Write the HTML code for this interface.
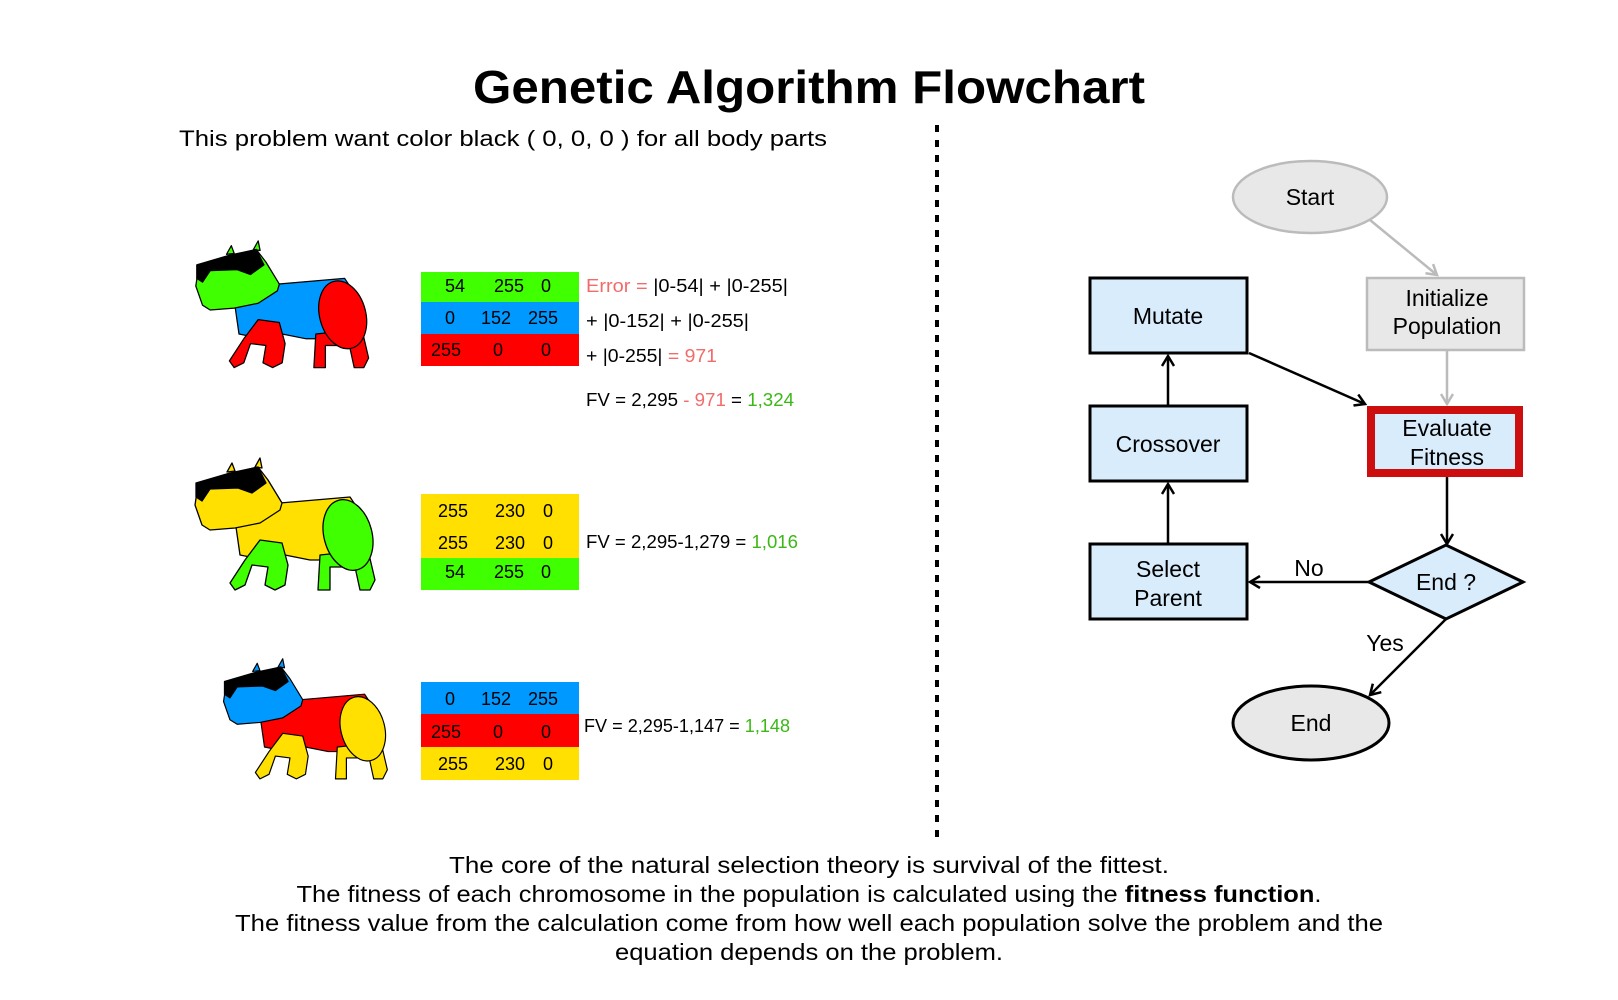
<!DOCTYPE html>
<html><head><meta charset="utf-8"><style>
html,body{margin:0;padding:0;background:#fff;}
svg{display:block;}
text{font-family:"Liberation Sans","DejaVu Sans",sans-serif;}
</style></head><body>
<svg width="1618" height="1000" viewBox="0 0 1618 1000" xmlns="http://www.w3.org/2000/svg">
<defs>
<marker id="ab" markerWidth="14" markerHeight="14" refX="11" refY="7" orient="auto" markerUnits="userSpaceOnUse"><path d="M1,1 L11,7 L1,13" fill="none" stroke="#000" stroke-width="2.5"/></marker>
<marker id="ag" markerWidth="14" markerHeight="14" refX="11" refY="7" orient="auto" markerUnits="userSpaceOnUse"><path d="M1,1 L11,7 L1,13" fill="none" stroke="#bbb" stroke-width="2.5"/></marker>
</defs>

<text x="809" y="103" font-size="46" font-weight="bold" text-anchor="middle" textLength="672" lengthAdjust="spacingAndGlyphs">Genetic Algorithm Flowchart</text>
<text x="179" y="146" font-size="22" textLength="648" lengthAdjust="spacingAndGlyphs">This problem want color black ( 0, 0, 0 ) for all body parts</text>

<line x1="937" y1="125" x2="937" y2="842" stroke="#000" stroke-width="4" stroke-dasharray="7,8"/>

<!-- Dog 1 -->
<g transform="translate(191,238) scale(0.96)" stroke="#000" stroke-width="1.3" stroke-linejoin="round">
 <polygon points="37,17 42,8 45,16" fill="#40ff00"/><polygon points="65,12 70,3 72,13" fill="#40ff00"/>
 <polygon points="46,72 90,48 160,42 172,60 180,90 170,105 120,105 95,100 75,105 50,100" fill="#0099ff"/>
 <polygon points="70,85 92,88 98,110 95,130 85,135 75,130 78,112 62,110 55,130 45,135 40,128 55,105" fill="#ff0000"/>
 <polygon points="130,100 178,95 185,125 180,135 170,135 165,112 140,112 140,135 128,135" fill="#ff0000"/>
 <ellipse cx="158" cy="80" rx="24" ry="36" transform="rotate(-15 158 80)" fill="#ff0000"/>
 <polygon points="8,30 35,20 68,12 78,25 92,48 90,55 70,68 45,73 20,75 12,70 5,50" fill="#40ff00"/>
 <polygon points="6,28 40,18 68,12 76,28 62,38 48,33 20,34 12,46 6,42" fill="#000"/>
</g>
<!-- Dog 2 -->
<g transform="translate(190,455)" stroke="#000" stroke-width="1.3" stroke-linejoin="round">
 <polygon points="37,17 42,8 45,16" fill="#ffe000"/><polygon points="65,12 70,3 72,13" fill="#ffe000"/>
 <polygon points="46,72 90,48 160,42 172,60 180,90 170,105 120,105 95,100 75,105 50,100" fill="#ffe000"/>
 <polygon points="70,85 92,88 98,110 95,130 85,135 75,130 78,112 62,110 55,130 45,135 40,128 55,105" fill="#40ff00"/>
 <polygon points="130,100 178,95 185,125 180,135 170,135 165,112 140,112 140,135 128,135" fill="#40ff00"/>
 <ellipse cx="158" cy="80" rx="24" ry="36" transform="rotate(-15 158 80)" fill="#40ff00"/>
 <polygon points="8,30 35,20 68,12 78,25 92,48 90,55 70,68 45,73 20,75 12,70 5,50" fill="#ffe000"/>
 <polygon points="6,28 40,18 68,12 76,28 62,38 48,33 20,34 12,46 6,42" fill="#000"/>
</g>
<!-- Dog 3 -->
<g transform="translate(219,656) scale(0.91)" stroke="#000" stroke-width="1.3" stroke-linejoin="round">
 <polygon points="37,17 42,8 45,16" fill="#0099ff"/><polygon points="65,12 70,3 72,13" fill="#0099ff"/>
 <polygon points="46,72 90,48 160,42 172,60 180,90 170,105 120,105 95,100 75,105 50,100" fill="#ff0000"/>
 <polygon points="70,85 92,88 98,110 95,130 85,135 75,130 78,112 62,110 55,130 45,135 40,128 55,105" fill="#ffe000"/>
 <polygon points="130,100 178,95 185,125 180,135 170,135 165,112 140,112 140,135 128,135" fill="#ffe000"/>
 <ellipse cx="158" cy="80" rx="24" ry="36" transform="rotate(-15 158 80)" fill="#ffe000"/>
 <polygon points="8,30 35,20 68,12 78,25 92,48 90,55 70,68 45,73 20,75 12,70 5,50" fill="#0099ff"/>
 <polygon points="6,28 40,18 68,12 76,28 62,38 48,33 20,34 12,46 6,42" fill="#000"/>
</g>

<!-- Tables -->
<g font-size="18" text-anchor="middle">
 <rect x="421" y="272" width="158" height="30" fill="#40ff00"/>
 <rect x="421" y="302" width="158" height="32" fill="#0099ff"/>
 <rect x="421" y="334" width="158" height="32" fill="#ff0000"/>
 <text x="455" y="292">54</text><text x="509" y="292">255</text><text x="546" y="292">0</text>
 <text x="450" y="324">0</text><text x="496" y="324">152</text><text x="543" y="324">255</text>
 <text x="446" y="356">255</text><text x="498" y="356">0</text><text x="546" y="356">0</text>

 <rect x="421" y="494" width="158" height="32" fill="#ffe000"/>
 <rect x="421" y="526" width="158" height="32" fill="#ffe000"/>
 <rect x="421" y="558" width="158" height="32" fill="#40ff00"/>
 <text x="453" y="517">255</text><text x="510" y="517">230</text><text x="548" y="517">0</text>
 <text x="453" y="549">255</text><text x="510" y="549">230</text><text x="548" y="549">0</text>
 <text x="455" y="578">54</text><text x="509" y="578">255</text><text x="546" y="578">0</text>

 <rect x="421" y="682" width="158" height="32" fill="#0099ff"/>
 <rect x="421" y="714" width="158" height="33" fill="#ff0000"/>
 <rect x="421" y="747" width="158" height="33" fill="#ffe000"/>
 <text x="450" y="705">0</text><text x="496" y="705">152</text><text x="543" y="705">255</text>
 <text x="446" y="738">255</text><text x="498" y="738">0</text><text x="546" y="738">0</text>
 <text x="453" y="770">255</text><text x="510" y="770">230</text><text x="548" y="770">0</text>
</g>

<g font-size="18">
 <text x="586" y="292" textLength="202" lengthAdjust="spacingAndGlyphs"><tspan fill="#f26b6b">Error =</tspan> |0-54| + |0-255|</text>
 <text x="586" y="327" textLength="163" lengthAdjust="spacingAndGlyphs">+ |0-152| + |0-255|</text>
 <text x="586" y="362" textLength="131" lengthAdjust="spacingAndGlyphs">+ |0-255| <tspan fill="#f26b6b">= 971</tspan></text>
 <text x="586" y="406" textLength="208" lengthAdjust="spacingAndGlyphs">FV = 2,295 <tspan fill="#f26b6b">- 971</tspan> = <tspan fill="#3cb816">1,324</tspan></text>
 <text x="586" y="548" textLength="212" lengthAdjust="spacingAndGlyphs">FV = 2,295-1,279 = <tspan fill="#3cb816">1,016</tspan></text>
 <text x="584" y="732" textLength="206" lengthAdjust="spacingAndGlyphs">FV = 2,295-1,147 = <tspan fill="#3cb816">1,148</tspan></text>
</g>

<!-- Flowchart -->
<g font-size="23" text-anchor="middle">
 <line x1="1370" y1="220" x2="1437" y2="275" stroke="#bbb" stroke-width="2.5" marker-end="url(#ag)"/>
 <line x1="1447" y1="350" x2="1447" y2="404" stroke="#bbb" stroke-width="2.5" marker-end="url(#ag)"/>
 <line x1="1249" y1="353" x2="1365" y2="404" stroke="#000" stroke-width="2.5" marker-end="url(#ab)"/>
 <line x1="1447" y1="477" x2="1447" y2="544" stroke="#000" stroke-width="2.5" marker-end="url(#ab)"/>
 <line x1="1369" y1="582" x2="1250" y2="582" stroke="#000" stroke-width="2.5" marker-end="url(#ab)"/>
 <line x1="1168" y1="544" x2="1168" y2="484" stroke="#000" stroke-width="2.5" marker-end="url(#ab)"/>
 <line x1="1168" y1="406" x2="1168" y2="356" stroke="#000" stroke-width="2.5" marker-end="url(#ab)"/>
 <line x1="1446" y1="619" x2="1370" y2="695" stroke="#000" stroke-width="2.5" marker-end="url(#ab)"/>

 <ellipse cx="1310" cy="197" rx="77" ry="36" fill="#e8e8e8" stroke="#bbb" stroke-width="2.5"/>
 <text x="1310" y="205">Start</text>
 <rect x="1367" y="278" width="157" height="72" fill="#e8e8e8" stroke="#bbb" stroke-width="2.5"/>
 <text x="1447" y="306">Initialize</text><text x="1447" y="334">Population</text>
 <rect x="1090" y="278" width="157" height="75" fill="#d8ecfc" stroke="#000" stroke-width="3"/>
 <text x="1168" y="324">Mutate</text>
 <rect x="1371" y="410" width="148" height="63" fill="#d8ecfc" stroke="#cc0e0e" stroke-width="8"/>
 <text x="1447" y="436">Evaluate</text><text x="1447" y="465">Fitness</text>
 <rect x="1090" y="406" width="157" height="75" fill="#d8ecfc" stroke="#000" stroke-width="3"/>
 <text x="1168" y="452">Crossover</text>
 <rect x="1090" y="544" width="157" height="75" fill="#d8ecfc" stroke="#000" stroke-width="3"/>
 <text x="1168" y="577">Select</text><text x="1168" y="606">Parent</text>
 <polygon points="1369,582 1446,545 1523,582 1446,619" fill="#d8ecfc" stroke="#000" stroke-width="3"/>
 <text x="1446" y="590">End ?</text>
 <ellipse cx="1311" cy="723" rx="78" ry="37" fill="#e8e8e8" stroke="#000" stroke-width="3"/>
 <text x="1311" y="731">End</text>
 <text x="1309" y="576">No</text>
 <text x="1385" y="651">Yes</text>
</g>

<g font-size="23" text-anchor="middle">
 <text x="809" y="873" textLength="720" lengthAdjust="spacingAndGlyphs">The core of the natural selection theory is survival of the fittest.</text>
 <text x="809" y="902" textLength="1025" lengthAdjust="spacingAndGlyphs">The fitness of each chromosome in the population is calculated using the <tspan font-weight="bold">fitness function</tspan>.</text>
 <text x="809" y="931" textLength="1148" lengthAdjust="spacingAndGlyphs">The fitness value from the calculation come from how well each population solve the problem and the</text>
 <text x="809" y="960" textLength="388" lengthAdjust="spacingAndGlyphs">equation depends on the problem.</text>
</g>
</svg>
</body></html>
